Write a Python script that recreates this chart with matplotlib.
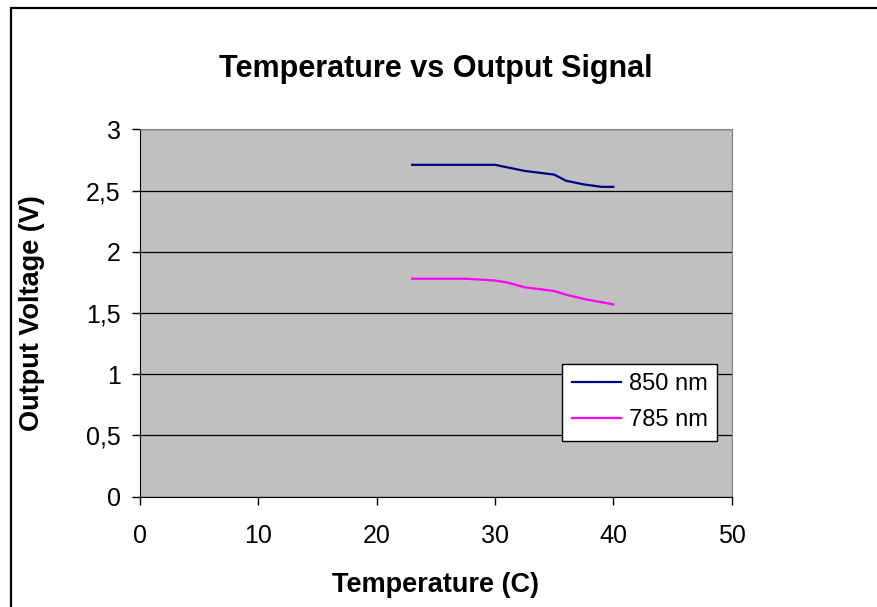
import matplotlib
matplotlib.use("Agg")
import matplotlib.pyplot as plt
from matplotlib.patches import Rectangle
from matplotlib.ticker import FuncFormatter

plt.rcParams['font.family'] = ['Liberation Sans', 'DejaVu Sans']

# data
temp_850 = [23, 30, 31, 32.5, 35, 36, 37.5, 39, 40]
volt_850 = [2.71, 2.71, 2.69, 2.66, 2.63, 2.58, 2.55, 2.53, 2.53]
temp_785 = [23, 27.5, 30, 31, 32.5, 35, 36, 37.5, 40]
volt_785 = [1.78, 1.78, 1.765, 1.75, 1.71, 1.68, 1.65, 1.615, 1.57]

x_ticks = [0, 10, 20, 30, 40, 50]
y_ticks = [0, 0.5, 1, 1.5, 2, 2.5, 3]

fig = plt.figure(figsize=(8.77, 6.07), dpi=100)
ax = fig.add_axes([0.1596, 0.1817, 0.6747, 0.6053])
ax.set_facecolor('#C0C0C0')

ax.plot(temp_850, volt_850, color='#000080', lw=1.6, label='850 nm', zorder=3)
ax.plot(temp_785, volt_785, color='#FF00FF', lw=1.6, label='785 nm', zorder=3)

ax.set_xlim(0, 50)
ax.set_ylim(0, 3)
ax.set_xticks(x_ticks)
ax.set_yticks(y_ticks)
ax.yaxis.set_major_formatter(FuncFormatter(lambda v, p: ('%g' % v).replace('.', ',')))
ax.grid(axis='y', color='black', lw=0.9)
ax.set_axisbelow(True)

for side in ['top', 'right']:
    ax.spines[side].set_color('#808080')
for side in ['left', 'bottom']:
    ax.spines[side].set_color('black')
ax.tick_params(axis='x', direction='out', length=6, width=1, labelsize=18, pad=14)
ax.tick_params(axis='y', direction='out', length=6, width=1, labelsize=18, pad=8)

ax.set_title('Temperature vs Output Signal', fontsize=22, fontweight='bold', pad=38)
ax.set_xlabel('Temperature (C)', fontsize=19.5, fontweight='bold')
ax.set_ylabel('Output Voltage (V)', fontsize=19.5, fontweight='bold')
ax.xaxis.set_label_coords(0.5, -0.204)
ax.yaxis.set_label_coords(-0.16, 0.5)

leg = ax.legend(loc='lower right', bbox_to_anchor=(0.975, 0.152), fontsize=17,
                frameon=True, fancybox=False, framealpha=1, edgecolor='black',
                handlelength=2.1, handletextpad=0.3, borderpad=0.4, labelspacing=0.6,
                borderaxespad=0)
leg.get_frame().set_linewidth(1)

fig.patches.append(Rectangle((0.0131, -0.1), 1.2, 1.0876, transform=fig.transFigure,
                             fill=False, edgecolor='black', lw=1.6))

fig.savefig('out.png', dpi=100)
